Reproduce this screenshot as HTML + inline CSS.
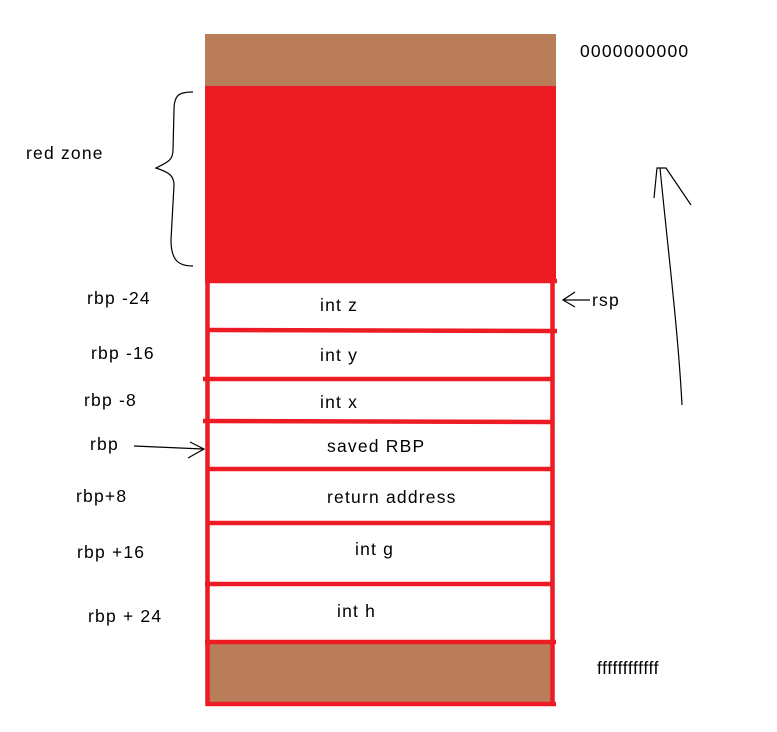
<!DOCTYPE html>
<html><head><style>
body{margin:0;background:#fff;}
svg{display:block;}
text{font-family:"Liberation Sans",sans-serif;font-size:17.5px;letter-spacing:1.2px;fill:#000;}
</style></head><body>
<svg width="777" height="732" viewBox="0 0 777 732">
<rect x="205" y="34" width="351" height="54" fill="#b97d59"/>
<rect x="205" y="86" width="351" height="196" fill="#ed1c24"/>
<rect x="207" y="643" width="346" height="61" fill="#b97d59"/>
<g stroke="#ed1c24" stroke-width="4.5" fill="none">
<line x1="207.5" y1="280" x2="207.5" y2="706"/>
<line x1="552.5" y1="280" x2="552.5" y2="706"/>
<line x1="205" y1="281" x2="557" y2="281"/>
<line x1="207" y1="330" x2="557" y2="331"/>
<line x1="203" y1="379" x2="552" y2="379"/>
<line x1="203" y1="421" x2="552" y2="422"/>
<line x1="207" y1="469" x2="552" y2="469"/>
<line x1="207" y1="523" x2="552" y2="523"/>
<line x1="205" y1="584" x2="552" y2="584"/>
<line x1="205" y1="642" x2="556" y2="642"/>
<line x1="206" y1="704" x2="556" y2="704"/>
</g>
<g stroke="#000" stroke-width="1.2" fill="none">
<path d="M193,92 C180,92 174,94 174,110 L173,150 C173,160 168,162 156,168 C168,172 174,175 174,185 L171,240 C171,262 180,266 193,266"/>
<path d="M590,300 L563,300 M575,292 L563,300 L575,307"/>
<path d="M134,446 L203,449 M190,442 L204,449 L188,458"/>
<path d="M682,405 C678,330 668,250 660,168 M654,198 L657,168 L666,168 L691,205"/>
</g>
<text x="26" y="159">red zone</text>
<text x="87" y="304">rbp -24</text>
<text x="91" y="359">rbp -16</text>
<text x="84" y="406">rbp -8</text>
<text x="90" y="450">rbp</text>
<text x="76" y="502">rbp+8</text>
<text x="77" y="558">rbp +16</text>
<text x="88" y="622">rbp + 24</text>
<text x="592" y="306">rsp</text>
<text x="580" y="57">0000000000</text>
<text x="597" y="674" style="letter-spacing:0.6px">ffffffffffff</text>
<text x="320" y="311">int z</text>
<text x="320" y="361">int y</text>
<text x="320" y="408">int x</text>
<text x="327" y="452">saved RBP</text>
<text x="327" y="503">return address</text>
<text x="355" y="555">int g</text>
<text x="337" y="617">int h</text>
</svg>
</body></html>
